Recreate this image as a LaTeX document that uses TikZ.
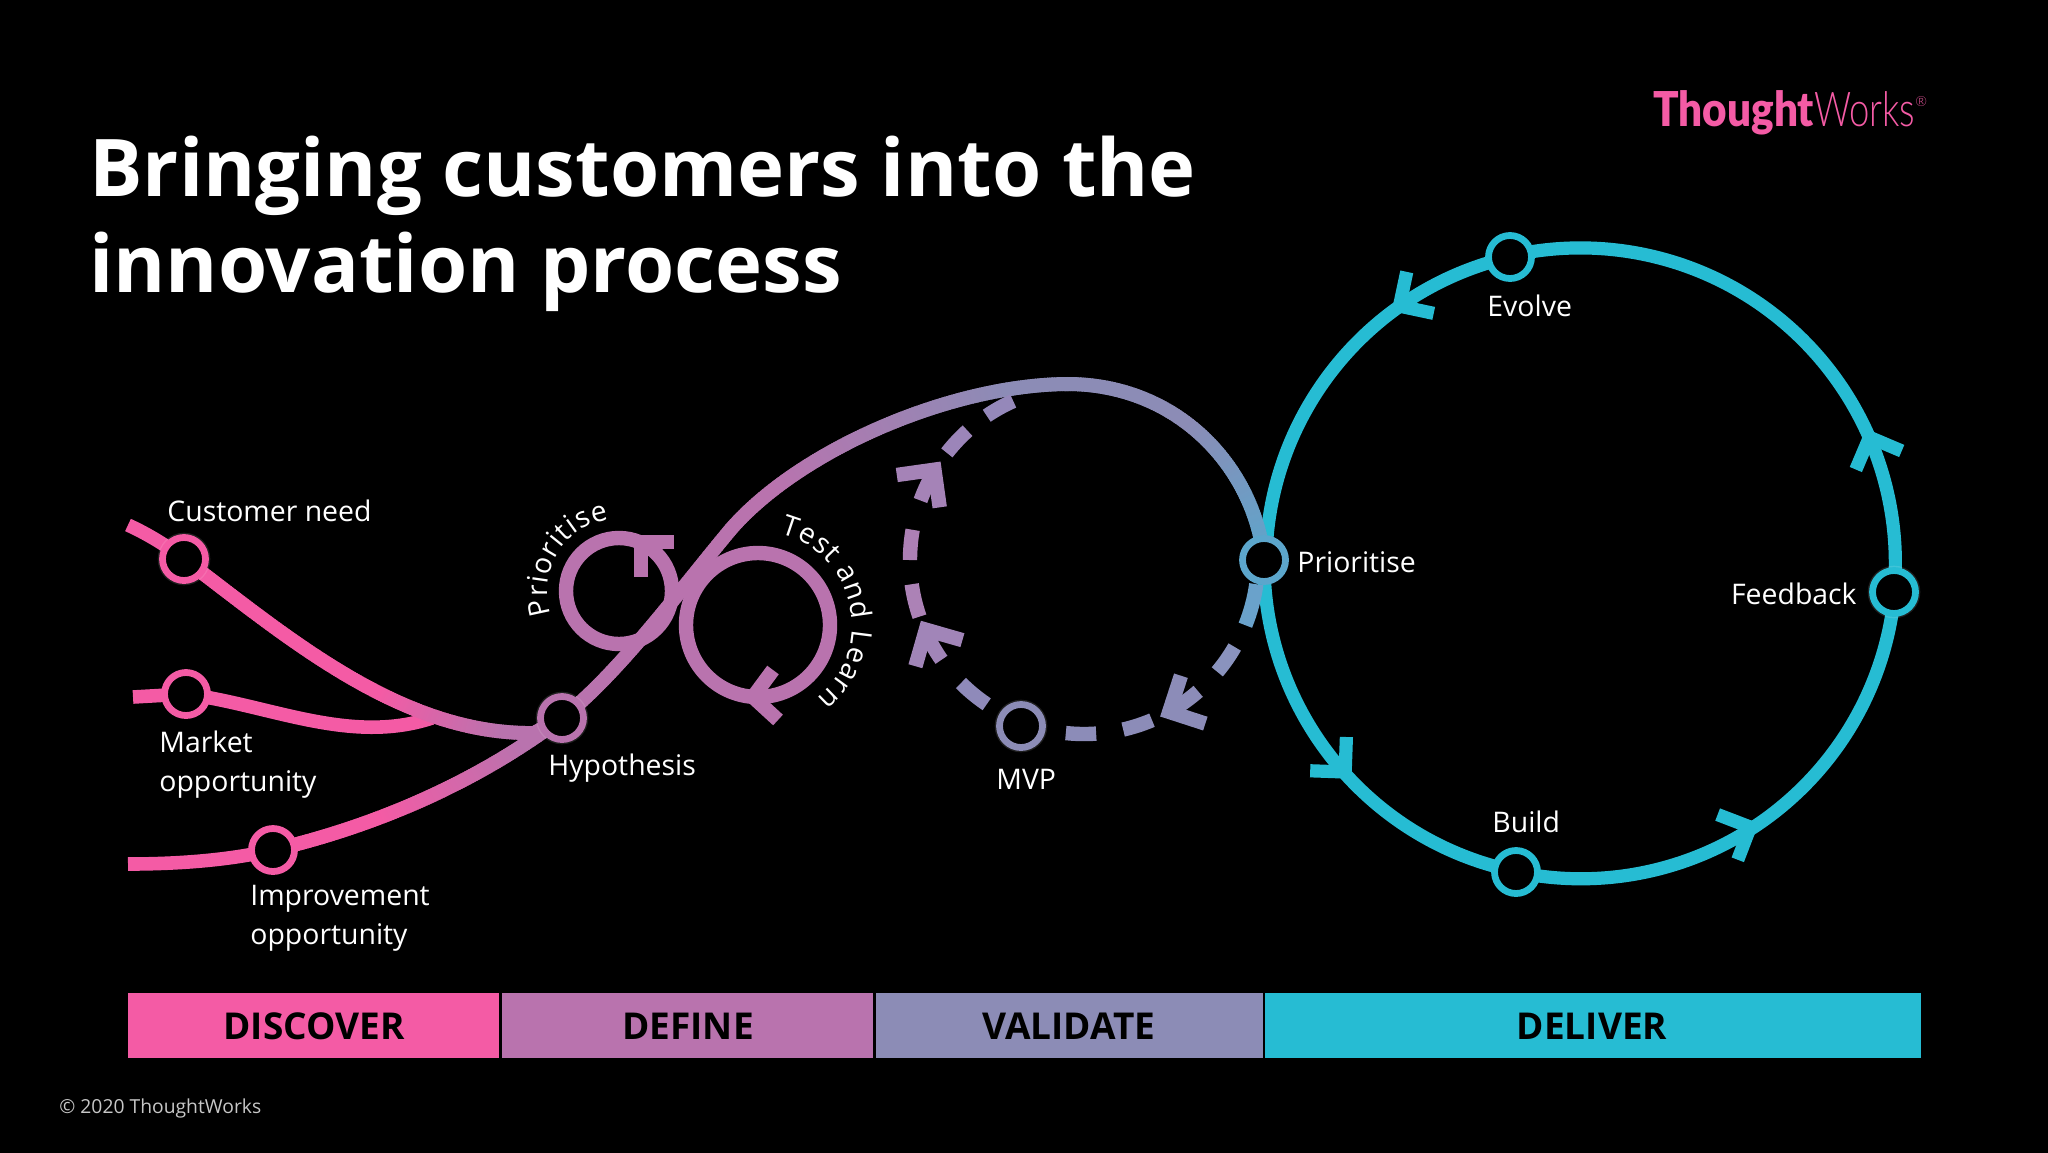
\documentclass[tikz,border=0pt]{standalone}
\usepackage{fontspec}
\setmainfont{Open Sans}
\newfontfamily\logobold{Lato}[BoldFont={Lato Black}]
\newfontfamily\logolight{Lato Light}
\usetikzlibrary{backgrounds,calc,decorations.markings,decorations.text}
\definecolor{discover}{HTML}{F45BA5}
\definecolor{define}{HTML}{B973AE}
\definecolor{validate}{HTML}{8C8CB6}
\definecolor{deliver}{HTML}{26BCD3}
\definecolor{prioblue}{HTML}{5CA6CC}
\newcommand{\labelfont}{\fontsize{14.2}{19.5}\selectfont}

\begin{document}
\begin{tikzpicture}[x=0.5pt,y=0.5pt,yscale=-1,xscale=1,
    ringnode/.style={circle,line width=3.4pt,fill=black,inner sep=0pt,minimum size=21.5pt},
    glow/.style={preaction={draw=white,draw opacity=0.12,line width=4.8pt}},
    textnode/.style={text=white,font=\labelfont,inner sep=0pt,align=left},
    barnode/.style={anchor=center,text=black,font=\fontsize{18.5}{22}\selectfont\bfseries,inner sep=0pt,minimum height=32.5pt,text height=13pt,text depth=0pt},
    pinkline/.style={draw=discover,line width=6.8pt},
    loopline/.style={draw=define,line width=7.2pt,miter limit=10},
    deliverline/.style={draw=deliver,line width=6.6pt,miter limit=10},
    stub/.style={line width=7.2pt,miter limit=10},
    fadeline/.style n args={4}{decoration={markings,mark=between positions 0 and 1 step 1.2pt with {
        \pgfmathsetmacro\fadepct{max(0,min(100,100*(\pgfkeysvalueof{/pgf/decoration/mark info/distance from start}/\pgfdecoratedpathlength-#3)/(#4-#3)))}
        \fill[#2!\fadepct!#1] (-1pt,-3.5pt) rectangle (1pt,3.5pt);}},decorate}]
    \useasboundingbox (0,0) rectangle (2048,1152);

    % Text Node
    \node[anchor=north west,text=white,font=\fontsize{39.8}{48}\selectfont\bfseries,inner sep=0pt,align=left] (title) at (89,136) {Bringing customers into the\\innovation process};
    % Logo
    \node[anchor=base west,text=discover,inner sep=0pt,font=\fontsize{24}{28}\selectfont] (logo) at (1653,126) {\scalebox{0.88}[1]{\logobold\bfseries Thought}\scalebox{0.76}[1]{\logolight Works}\raisebox{0.75ex}{\logolight\fontsize{7}{7}\selectfont ®}};
    \node[anchor=base west,text=white!78!black,inner sep=0pt,font=\fontsize{9.65}{13}\selectfont] (copyright) at (59,1113) {© 2020 ThoughtWorks};

    % Rings
    \node[ringnode,glow,draw=discover] (need) at (184,559) {};
    \node[ringnode,draw=discover] (market) at (186,694) {};
    \node[ringnode,draw=discover] (improve) at (273,850) {};
    \node[ringnode,glow,draw=define] (hyp) at (562,718) {};
    \node[ringnode,glow,draw=validate] (mvp) at (1021,726) {};
    \node[ringnode,draw=prioblue] (prio) at (1264,560) {};
    \node[ringnode,glow,draw=deliver] (feedback) at (1894,592) {};
    \node[ringnode,draw=deliver] (evolve) at (1510,257) {};
    \node[ringnode,draw=deliver] (build) at (1516,872) {};

    \coordinate (needstart) at (128,525);
    \coordinate (marketstart) at (133,697);
    \coordinate (improvestart) at (128,864);
    \coordinate (marketjoin) at (432,718);
    \coordinate (bendmid) at (731,529);
    \coordinate (bendtop) at (1067,384);
    \coordinate (hub) at (1084,560);
    \coordinate (ringhub) at (1581,563);
    \coordinate (prioloop) at (619,591);
    \coordinate (testloop) at (758,625);

    \begin{scope}[on background layer]
    \fill[black] (-10,-10) rectangle (2058,1162);

    % Deliver circle
    \foreach \from/\start/\stop in {prio/180.5/101.9,build/101.9/5.3,feedback/5.3/-103,evolve/-103/-179.5}{
        \draw[deliverline] (\from.center) arc[start angle=\start,end angle=\stop,radius=315];
    }
    \foreach \tip/\back in {137/227,55.9/156,-25/68,-126.7/-33}{
        \coordinate (corner) at ($(ringhub)+(\tip:315)+(\back:8)$);
        \draw[deliverline] ($(corner)+(\back+45:35)$) -- (corner) -- ($(corner)+(\back-45:35)$);
    }

    % Lines into hypothesis
    \draw[pinkline] (marketstart) -- (market.center);
    \draw[pinkline] (market.center) .. controls (270,705) and (350,745) .. (marketjoin);
    \draw[pinkline] (needstart) .. controls (150,535) and (170,548) .. (need.center);
    \path[fadeline={discover}{define}{0.55}{0.85}] (need.center) .. controls (285,635) and (400,735) .. (534,733) -- (hyp.center);
    \draw[pinkline] (improvestart) .. controls (180,864) and (230,860) .. (improve.center);
    \path[fadeline={discover}{define}{0.35}{0.85}] (improve.center) .. controls (380,825) and (480,780) .. (hyp.center);

    % Big curve
    \path[fadeline={define}{validate}{0.5}{0.9}] (hyp.center) .. controls (620,672) and (680,590) .. (bendmid) .. controls (800,450) and (950,385) .. (bendtop);
    \path[fadeline={validate}{prioblue}{0.45}{1}] (bendtop) .. controls (1180,384) and (1255,470) .. (prio.center);

    % Small loops
    \draw[loopline] (prioloop) circle (53);
    \draw[loopline] (674,542) -- (641,542) -- (641,577);
    \draw[loopline] (testloop) circle (72);
    \draw[loopline] (773,670) -- (753,697) -- (778,720);

    % Validate dashes
    \foreach \a/\b/\c in {8/22/6AA2CB,30/40/8A93BE,67/77/8C8CB8,86/96/8C8CB8,124/135/8F8ABA,161/172/AC82B6,180/190/AD80B5,218/228/9C85B9,236/246/9588BA}{
        \definecolor{stubcolor}{HTML}{\c}
        \draw[stub,stubcolor] ($(hub)+(\a:174)$) arc[start angle=\a,end angle=\b,radius=174];
    }
    \foreach \a/\b/\back/\c in {49/64/-27/8C8CB8,145/159.5/61/A185B8,200/214.4/127/A583B7}{
        \definecolor{stubcolor}{HTML}{\c}
        \coordinate (corner) at ($(hub)+(\b:174)+(\back:10)$);
        \draw[stub,stubcolor] ($(hub)+(\a:174)$) arc[start angle=\a,end angle=\b-3,radius=174];
        \draw[stub,stubcolor] ($(corner)+(\back+45:38)$) -- (corner) -- ($(corner)+(\back-45:38)$);
    }
    \end{scope}

    % Text Node
    \node[textnode,anchor=west] (needlabel) at (167,511) {Customer need};
    \node[textnode,anchor=west] (marketlabel) at (159,765) {Market\\opportunity};
    \node[textnode,anchor=west] (improvelabel) at (250,918) {Improvement\\opportunity};
    \node[textnode,anchor=west] (hyplabel) at (548,768) {Hypothesis};
    \node[textnode,anchor=west] (mvplabel) at (996,779) {MVP};
    \node[textnode,anchor=west] (priolabel) at (1297,562) {Prioritise};
    \node[textnode,anchor=east] (feedbacklabel) at (1857,594) {Feedback};
    \node[textnode,anchor=west] (evolvelabel) at (1487,306) {Evolve};
    \node[textnode,anchor=west] (buildlabel) at (1492,822) {Build};

    % Text along the loops
    \path[decorate,decoration={text along path,text={|\labelfont|Prioritise},text color=white,text align={fit to path}}] ($(prioloop)+(161:72)$) arc[start angle=161,end angle=262,radius=72];
    \path[decorate,decoration={text along path,text={|\labelfont|Test and Learn},text color=white,text align={fit to path}}] ($(testloop)+(-76:94)$) arc[start angle=-76,end angle=51,radius=94];

    % Phase bar
    \fill[discover] (128,993) rectangle (499,1058);
    \fill[define] (502,993) rectangle (873,1058);
    \fill[validate] (876,993) rectangle (1263,1058);
    \fill[deliver] (1265,993) rectangle (1921,1058);
    \node[barnode] (discoverlabel) at (314,1026) {DISCOVER};
    \node[barnode] (definelabel) at (688,1026) {DEFINE};
    \node[barnode] (validatelabel) at (1069,1026) {VALIDATE};
    \node[barnode] (deliverlabel) at (1592,1026) {DELIVER};
\end{tikzpicture}
\end{document}
